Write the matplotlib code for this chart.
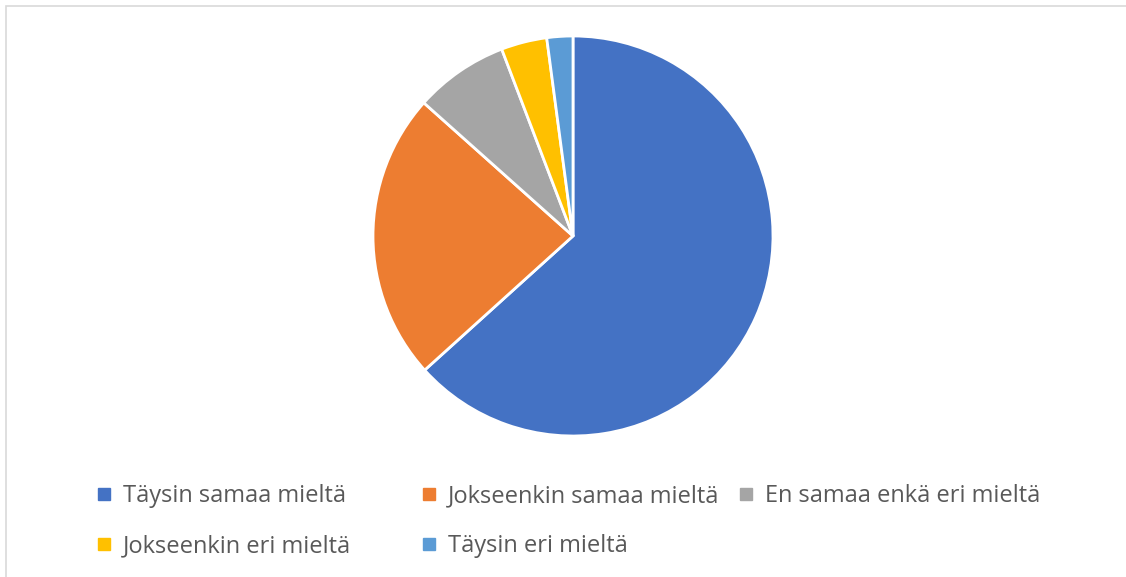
import matplotlib

matplotlib.use("Agg")
import matplotlib.pyplot as plt
from matplotlib.patches import Rectangle

# survey answers (share of respondents, %)
labels = [
    "Täysin samaa mieltä",
    "Jokseenkin samaa mieltä",
    "En samaa enkä eri mieltä",
    "Jokseenkin eri mieltä",
    "Täysin eri mieltä",
]
shares = [63.3, 23.3, 7.6, 3.7, 2.1]
colors = ["#4472C4", "#ED7D31", "#A5A5A5", "#FFC000", "#5B9BD5"]

W, H = 1126, 577
fig = plt.figure(figsize=(W / 100, H / 100), dpi=100)
plt.rcParams["font.family"] = ["Open Sans", "DejaVu Sans"]

# chart-area frame (only top and left edges visible in the crop)
fig.patches.append(Rectangle((5.5 / W, -0.1), 1.2, (H - 5.5) / H + 0.1,
                             transform=fig.transFigure, fill=False,
                             edgecolor="#D9D9D9", lw=1.2))

cx, cy, r = 573, 236, 200
ax = fig.add_axes([(cx - r) / W, (H - cy - r) / H, 2 * r / W, 2 * r / H])
ax.pie(shares, colors=colors, startangle=90, counterclock=False,
       wedgeprops=dict(edgecolor="white", linewidth=2))
ax.set_xlim(-1, 1)
ax.set_ylim(-1, 1)
ax.axis("off")

# legend laid out by hand, 3 columns x 2 rows
col_x = [98, 423, 740]
row_base = [502, 552]
for i, (lab, c) in enumerate(zip(labels, colors)):
    x = col_x[i % 3]
    yb = row_base[i // 3]
    sq = 12
    fig.patches.append(Rectangle((x / W, (H - yb + 2) / H), sq / W, sq / H,
                                 transform=fig.transFigure, color=c))
    fig.text((x + sq + 13) / W, (H - yb) / H, lab, fontsize=17, color="#595959",
             va="baseline", ha="left")

fig.savefig("out.png", dpi=100)
